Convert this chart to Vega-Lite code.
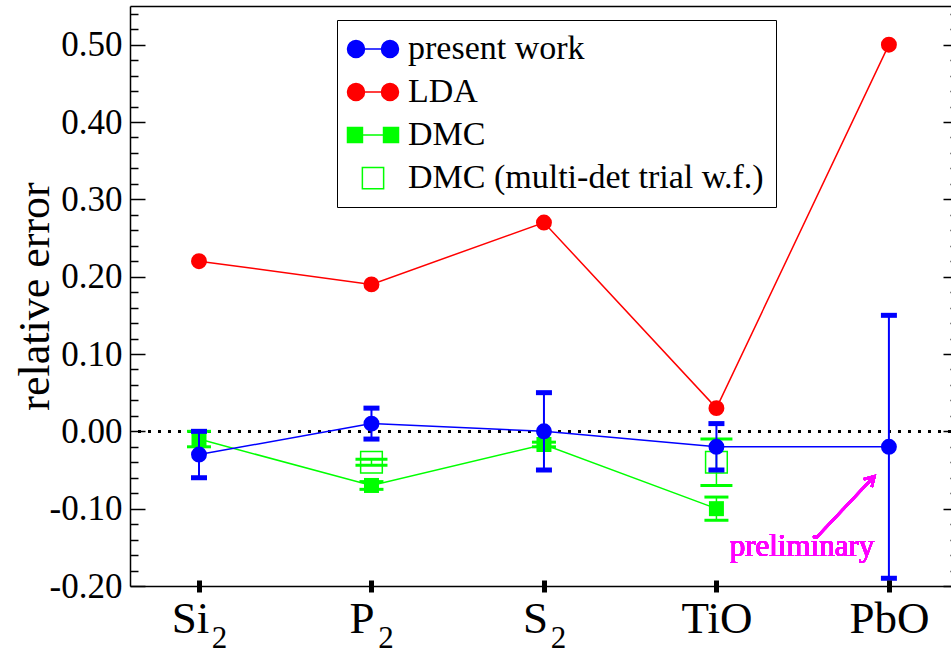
{
  "$schema": "https://vega.github.io/schema/vega-lite/v6.json",
  "width": 821,
  "height": 580,
  "autosize": "none",
  "padding": {"left": 130, "top": 6, "right": 0, "bottom": 65},
  "background": "white",
  "config": {"view": {"stroke": null}, "font": "Liberation Serif"},
  "data": {"values": [
    {"mol": "Si2", "x": 1, "series": "present work", "y": -0.03, "lo": -0.06, "hi": 0.0},
    {"mol": "P2", "x": 2, "series": "present work", "y": 0.01, "lo": -0.01, "hi": 0.03},
    {"mol": "S2", "x": 3, "series": "present work", "y": 0.0, "lo": -0.05, "hi": 0.05},
    {"mol": "TiO", "x": 4, "series": "present work", "y": -0.02, "lo": -0.05, "hi": 0.01},
    {"mol": "PbO", "x": 5, "series": "present work", "y": -0.02, "lo": -0.19, "hi": 0.15},
    {"mol": "Si2", "x": 1, "series": "LDA", "y": 0.22},
    {"mol": "P2", "x": 2, "series": "LDA", "y": 0.19},
    {"mol": "S2", "x": 3, "series": "LDA", "y": 0.27},
    {"mol": "TiO", "x": 4, "series": "LDA", "y": 0.03},
    {"mol": "PbO", "x": 5, "series": "LDA", "y": 0.5},
    {"mol": "Si2", "x": 1, "series": "DMC", "y": -0.01, "lo": -0.02, "hi": 0.0},
    {"mol": "P2", "x": 2, "series": "DMC", "y": -0.07, "lo": -0.075, "hi": -0.065},
    {"mol": "S2", "x": 3, "series": "DMC", "y": -0.017, "lo": -0.02, "hi": -0.014},
    {"mol": "TiO", "x": 4, "series": "DMC", "y": -0.1, "lo": -0.115, "hi": -0.085},
    {"mol": "P2", "x": 2, "series": "DMC (multi-det trial w.f.)", "y": -0.04, "lo": -0.044, "hi": -0.036},
    {"mol": "TiO", "x": 4, "series": "DMC (multi-det trial w.f.)", "y": -0.04, "lo": -0.07, "hi": -0.01}
  ]},
  "layer": [
    {
      "mark": {"type": "rule", "color": "black", "strokeWidth": 2.5, "strokeDash": [2.5, 7.5]},
      "encoding": {"y": {"datum": 0, "type": "quantitative", "axis": null}}
    },
    {
      "transform": [{"filter": "datum.series == 'LDA'"}],
      "mark": {"type": "line", "color": "#ff0000", "strokeWidth": 1.5},
      "encoding": {
        "x": {"field": "x", "type": "quantitative",
          "scale": {"domain": [0.6, 5.36], "nice": false, "zero": false},
          "axis": {"orient": "bottom", "values": [1, 2, 3, 4, 5],
            "labelExpr": "['', 'Si', 'P', 'S', 'TiO', 'PbO'][datum.value]",
            "labelAlign": "center",
            "labelOffset": {"condition": [
              {"test": "datum.value == 1", "value": -9},
              {"test": "datum.value == 2", "value": -10},
              {"test": "datum.value == 3", "value": -9}
            ], "value": 0},
            "labelBaseline": "alphabetic", "labelPadding": 40,
            "tickSize": 12, "tickWidth": 5, "tickColor": "black", "offset": -6,
            "domain": false, "grid": false, "title": null, "zindex": 1,
            "labelFont": "Liberation Serif", "labelFontSize": 45, "labelColor": "black",
            "labelOverlap": false, "labelBound": false, "labelFlush": false}},
        "y": {"field": "y", "type": "quantitative",
          "scale": {"domain": [-0.2, 0.55], "nice": false, "zero": false},
          "axis": {"orient": "left",
            "values": [-0.2,-0.18,-0.16,-0.14,-0.12,-0.1,-0.08,-0.06,-0.04,-0.02,0,0.02,0.04,0.06,0.08,0.1,0.12,0.14,0.16,0.18,0.2,0.22,0.24,0.26,0.28,0.3,0.32,0.34,0.36,0.38,0.4,0.42,0.44,0.46,0.48,0.5,0.52,0.54],
            "labelExpr": "abs(datum.value*10 - round(datum.value*10)) < 0.001 ? replace(format(datum.value, '.2f'), '\u2212', '-') : ''",
            "tickSize": {"condition": {"test": "abs(datum.value*10 - round(datum.value*10)) < 0.001", "value": -15}, "value": -8},
            "tickColor": "black", "tickWidth": 1.5,
            "domainColor": "black", "domainWidth": 1.5,
            "labelFont": "Liberation Serif", "labelFontSize": 35, "labelColor": "black", "labelPadding": 23,
            "labelOverlap": false, "labelBound": false, "labelFlush": false, "grid": false,
            "title": "relative error", "titleFont": "Liberation Serif", "titleFontSize": 44,
            "titleFontWeight": "normal", "titleColor": "black", "titlePadding": -8}}
      }
    },
    {
      "transform": [{"filter": "datum.series == 'LDA'"}],
      "mark": {"type": "point", "shape": "circle", "filled": true, "opacity": 1, "color": "#ff0000", "size": 254},
      "encoding": {
        "x": {"field": "x", "type": "quantitative", "axis": null},
        "y": {"field": "y", "type": "quantitative", "axis": null}
      }
    },
    {
      "transform": [{"filter": "datum.series == 'DMC'"}],
      "mark": {"type": "line", "color": "#00ff00", "strokeWidth": 1.5},
      "encoding": {
        "x": {"field": "x", "type": "quantitative",
          "axis": {"orient": "bottom", "values": [1, 2, 3],
            "labelExpr": "'2'", "labelAlign": "center",
            "labelOffset": {"condition": [
              {"test": "datum.value == 1", "value": 20},
              {"test": "datum.value == 2", "value": 14}
            ], "value": 14},
            "labelBaseline": "alphabetic", "labelPadding": 61,
            "ticks": false, "tickSize": 0, "domain": true, "domainColor": "black", "domainWidth": 1.5,
            "grid": false, "title": null,
            "labelFont": "Liberation Serif", "labelFontSize": 31, "labelColor": "black",
            "labelOverlap": false, "labelBound": false, "labelFlush": false}},
        "y": {"field": "y", "type": "quantitative",
          "axis": {"orient": "right",
            "values": [-0.2,-0.18,-0.16,-0.14,-0.12,-0.1,-0.08,-0.06,-0.04,-0.02,0,0.02,0.04,0.06,0.08,0.1,0.12,0.14,0.16,0.18,0.2,0.22,0.24,0.26,0.28,0.3,0.32,0.34,0.36,0.38,0.4,0.42,0.44,0.46,0.48,0.5,0.52,0.54],
            "labels": false, "domain": false, "offset": 7, "grid": false, "title": null,
            "tickSize": {"condition": {"test": "abs(datum.value*10 - round(datum.value*10)) < 0.001", "value": -15}, "value": -8},
            "tickColor": "black", "tickWidth": 1.5}}
      }
    },
    {
      "transform": [{"filter": "datum.series == 'DMC'"}],
      "mark": {"type": "rule", "color": "#00ff00", "strokeWidth": 1.5},
      "encoding": {
        "x": {"field": "x", "type": "quantitative", "axis": null},
        "y": {"field": "lo", "type": "quantitative", "axis": null},
        "y2": {"field": "hi"}
      }
    },
    {
      "transform": [{"filter": "datum.series == 'DMC'"}],
      "mark": {"type": "tick", "orient": "horizontal", "color": "#00ff00", "size": 24, "thickness": 3, "opacity": 1},
      "encoding": {
        "x": {"field": "x", "type": "quantitative", "axis": null},
        "y": {"field": "lo", "type": "quantitative", "axis": null}
      }
    },
    {
      "transform": [{"filter": "datum.series == 'DMC'"}],
      "mark": {"type": "tick", "orient": "horizontal", "color": "#00ff00", "size": 24, "thickness": 3, "opacity": 1},
      "encoding": {
        "x": {"field": "x", "type": "quantitative", "axis": null},
        "y": {"field": "hi", "type": "quantitative", "axis": null}
      }
    },
    {
      "transform": [{"filter": "datum.series == 'DMC'"}],
      "mark": {"type": "point", "shape": "square", "filled": true, "opacity": 1, "color": "#00ff00", "size": 225},
      "encoding": {
        "x": {"field": "x", "type": "quantitative", "axis": null},
        "y": {"field": "y", "type": "quantitative", "axis": null}
      }
    },
    {
      "transform": [{"filter": "datum.series == 'DMC (multi-det trial w.f.)'"}],
      "mark": {"type": "rule", "color": "#00ff00", "strokeWidth": 1.5},
      "encoding": {
        "x": {"field": "x", "type": "quantitative", "axis": null},
        "y": {"field": "lo", "type": "quantitative", "axis": null},
        "y2": {"field": "hi"}
      }
    },
    {
      "transform": [{"filter": "datum.series == 'DMC (multi-det trial w.f.)'"}],
      "mark": {"type": "tick", "orient": "horizontal", "color": "#00ff00", "size": 32, "thickness": 3, "opacity": 1},
      "encoding": {
        "x": {"field": "x", "type": "quantitative", "axis": null},
        "y": {"field": "lo", "type": "quantitative", "axis": null}
      }
    },
    {
      "transform": [{"filter": "datum.series == 'DMC (multi-det trial w.f.)'"}],
      "mark": {"type": "tick", "orient": "horizontal", "color": "#00ff00", "size": 32, "thickness": 3, "opacity": 1},
      "encoding": {
        "x": {"field": "x", "type": "quantitative", "axis": null},
        "y": {"field": "hi", "type": "quantitative", "axis": null}
      }
    },
    {
      "transform": [{"filter": "datum.series == 'DMC (multi-det trial w.f.)'"}],
      "mark": {"type": "point", "shape": "square", "filled": false, "opacity": 1, "color": "#00ff00", "strokeWidth": 1.5, "size": 470},
      "encoding": {
        "x": {"field": "x", "type": "quantitative", "axis": null},
        "y": {"field": "y", "type": "quantitative", "axis": null}
      }
    },
    {
      "transform": [{"filter": "datum.series == 'present work'"}],
      "mark": {"type": "line", "color": "#0000ff", "strokeWidth": 1.5},
      "encoding": {
        "x": {"field": "x", "type": "quantitative",
          "axis": {"orient": "top", "ticks": false, "labels": false, "domain": true,
            "domainColor": "black", "domainWidth": 1.5, "grid": false, "title": null}},
        "y": {"field": "y", "type": "quantitative", "axis": null}
      }
    },
    {
      "transform": [{"filter": "datum.series == 'present work'"}],
      "mark": {"type": "rule", "color": "#0000ff", "strokeWidth": 2},
      "encoding": {
        "x": {"field": "x", "type": "quantitative", "axis": null},
        "y": {"field": "lo", "type": "quantitative", "axis": null},
        "y2": {"field": "hi"}
      }
    },
    {
      "transform": [{"filter": "datum.series == 'present work'"}],
      "mark": {"type": "tick", "orient": "horizontal", "color": "#0000ff", "size": 16, "thickness": 5, "opacity": 1},
      "encoding": {
        "x": {"field": "x", "type": "quantitative", "axis": null},
        "y": {"field": "lo", "type": "quantitative", "axis": null}
      }
    },
    {
      "transform": [{"filter": "datum.series == 'present work'"}],
      "mark": {"type": "tick", "orient": "horizontal", "color": "#0000ff", "size": 16, "thickness": 5, "opacity": 1},
      "encoding": {
        "x": {"field": "x", "type": "quantitative", "axis": null},
        "y": {"field": "hi", "type": "quantitative", "axis": null}
      }
    },
    {
      "transform": [{"filter": "datum.series == 'present work'"}],
      "mark": {"type": "point", "shape": "circle", "filled": true, "opacity": 1, "color": "#0000ff", "size": 254},
      "encoding": {
        "x": {"field": "x", "type": "quantitative", "axis": null},
        "y": {"field": "y", "type": "quantitative", "axis": null}
      }
    },
    {
      "mark": {"type": "rule", "color": "#ff00ff", "strokeWidth": 2.5},
      "encoding": {
        "x": {"datum": 4.578, "type": "quantitative", "axis": null},
        "y": {"datum": -0.1377, "type": "quantitative", "axis": null},
        "x2": {"datum": 4.916},
        "y2": {"datum": -0.058}
      }
    },
    {
      "mark": {"type": "point", "shape": "M-0.7,1.2L0,0L0.7,1.2", "filled": false, "opacity": 1, "color": "#ff00ff", "strokeWidth": 2.5, "size": 256, "angle": 44},
      "encoding": {
        "x": {"datum": 4.916, "type": "quantitative", "axis": null},
        "y": {"datum": -0.058, "type": "quantitative", "axis": null}
      }
    },
    {
      "mark": {"type": "text", "color": "#ff00ff", "font": "Liberation Serif", "fontSize": 31, "align": "center", "baseline": "alphabetic"},
      "encoding": {
        "x": {"datum": 4.496, "type": "quantitative", "axis": null},
        "y": {"datum": -0.1615, "type": "quantitative", "axis": null},
        "text": {"value": "preliminary"}
      }
    },
    {
      "data": {"values": [
        {"series": "present work"},
        {"series": "LDA"},
        {"series": "DMC"},
        {"series": "DMC (multi-det trial w.f.)"}
      ]},
      "mark": {"type": "point", "filled": true, "opacity": 1, "strokeWidth": 1.5},
      "encoding": {
        "x": {"field": "x", "type": "quantitative", "axis": null},
        "y": {"field": "y", "type": "quantitative", "axis": null},
        "shape": {"field": "series", "type": "nominal",
          "scale": {"domain": ["present work", "LDA", "DMC", "DMC (multi-det trial w.f.)"],
            "range": [
              "M-3,0A1,1,0,1,1,-1,0A1,1,0,1,1,-3,0ZM1,0A1,1,0,1,1,3,0A1,1,0,1,1,1,0ZM-1,0L1,0",
              "M-3,0A1,1,0,1,1,-1,0A1,1,0,1,1,-3,0ZM1,0A1,1,0,1,1,3,0A1,1,0,1,1,1,0ZM-1,0L1,0",
              "M-3,-0.88L-1.24,-0.88L-1.24,0.88L-3,0.88ZM1.24,-0.88L3,-0.88L3,0.88L1.24,0.88ZM-1.24,0L1.24,0",
              "M-1.25,-1.25L1.25,-1.25L1.25,1.25L-1.25,1.25Z"
            ]},
          "legend": {"title": null, "orient": "none", "legendX": 207, "legendY": 14,
            "padding": 12, "strokeColor": "black", "fillColor": "white",
            "symbolSize": 289, "symbolStrokeWidth": 1.5, "symbolOffset": 7,
            "labelOffset": 18, "labelFont": "Liberation Serif", "labelFontSize": 34,
            "labelColor": "black", "labelLimit": 600, "rowPadding": 9}},
        "stroke": {"field": "series", "type": "nominal",
          "scale": {"domain": ["present work", "LDA", "DMC", "DMC (multi-det trial w.f.)"],
            "range": ["#0000ff", "#ff0000", "#00ff00", "#00ff00"]},
          "legend": {"title": null, "orient": "none", "legendX": 207, "legendY": 14,
            "padding": 12, "strokeColor": "black", "fillColor": "white",
            "symbolSize": 289, "symbolStrokeWidth": 1.5, "symbolOffset": 7,
            "labelOffset": 18, "labelFont": "Liberation Serif", "labelFontSize": 34,
            "labelColor": "black", "labelLimit": 600, "rowPadding": 9}},
        "fill": {"field": "series", "type": "nominal",
          "scale": {"domain": ["present work", "LDA", "DMC", "DMC (multi-det trial w.f.)"],
            "range": ["#0000ff", "#ff0000", "#00ff00", "transparent"]},
          "legend": {"title": null, "orient": "none", "legendX": 207, "legendY": 14,
            "padding": 12, "strokeColor": "black", "fillColor": "white",
            "symbolSize": 289, "symbolStrokeWidth": 1.5, "symbolOffset": 7,
            "labelOffset": 18, "labelFont": "Liberation Serif", "labelFontSize": 34,
            "labelColor": "black", "labelLimit": 600, "rowPadding": 9}}
      }
    }
  ],
  "resolve": {"axis": {"x": "independent", "y": "independent"}}
}
